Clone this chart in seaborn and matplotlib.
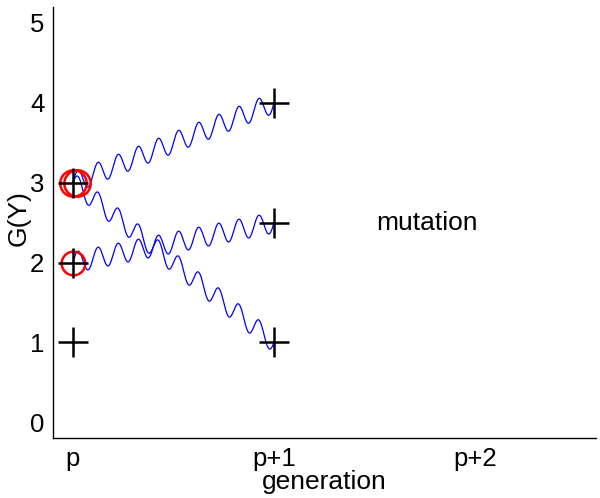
import numpy as np
import pandas as pd
import matplotlib
matplotlib.use("Agg")
import matplotlib.pyplot as plt
import seaborn as sns

# ---- data ----
gen_ticks = [0, 1, 2]
gen_labels = ["p", "p+1", "p+2"]
y_ticks = [0, 1, 2, 3, 4, 5]

plus_x = [0, 0, 0, 1, 1, 1]
plus_y = [1, 2, 3, 4, 2.5, 1]

circle_x = [0, 0.02, 0]
circle_y = [3, 3, 2]
circle_size = [19, 19, 17]

line_start_x = [0, 0, 0]
line_start_y = [3, 3, 2]
line_end_x = [1, 1, 1]
line_end_y = [4, 1, 2.5]

wave_cycles = 10
wave_amp = 0.13

sns.set_style("white")
plt.rcParams["font.family"] = ["Liberation Sans", "DejaVu Sans"]
plt.rcParams["text.color"] = "black"
plt.rcParams["axes.labelcolor"] = "black"
plt.rcParams["xtick.color"] = "black"
plt.rcParams["ytick.color"] = "black"

fig = plt.figure(figsize=(6.0, 4.98), dpi=100)
ax = fig.add_axes([0.088, 0.12, 0.905, 0.866])

# wavy mutation lines (straight segment + sinusoidal ripple as line style)
t = np.linspace(0, 1, 600)
rows = []
for i, (x0, y0, x1, y1) in enumerate(zip(line_start_x, line_start_y, line_end_x, line_end_y)):
    xs = x0 + (x1 - x0) * t
    ys = y0 + (y1 - y0) * t + wave_amp * np.sin(2 * np.pi * wave_cycles * t)
    rows.append(pd.DataFrame({"x": xs, "y": ys, "id": i}))
waves = pd.concat(rows)
for i, g in waves.groupby("id"):
    sns.lineplot(data=g, x="x", y="y", sort=False, color="#0000ff", lw=0.9, ax=ax, estimator=None)

# plus markers
pts = pd.DataFrame({"x": plus_x, "y": plus_y})
sns.scatterplot(data=pts, x="x", y="y", marker="+", s=480, color="black", linewidth=1.8, ax=ax, zorder=4)

# red circles
for cx, cy, cs in zip(circle_x, circle_y, circle_size):
    ax.plot([cx], [cy], marker="o", ms=cs, mfc="none", mec="red", mew=1.8, zorder=3)

ax.text(1.76, 2.5, "mutation", fontsize=19, ha="center", va="center", color="black")

ax.set_xlim(-0.1, 2.6)
ax.set_ylim(-0.2, 5.2)
ax.set_xticks(gen_ticks)
ax.set_xticklabels(gen_labels)
ax.set_yticks(y_ticks)
ax.tick_params(direction="in", length=4, width=0.8, labelsize=18.5, pad=6)
ax.set_xlabel("generation", fontsize=19)
ax.set_ylabel("G(Y)", fontsize=19)
ax.xaxis.set_label_coords(0.5, -0.074)
ax.yaxis.set_label_coords(-0.04, 0.51)
ax.xaxis.label.set_va("top")
for s in ["top", "right"]:
    ax.spines[s].set_visible(False)
for s in ["left", "bottom"]:
    ax.spines[s].set_color("black")
    ax.spines[s].set_linewidth(1.0)

fig.savefig("out.png", dpi=100)
